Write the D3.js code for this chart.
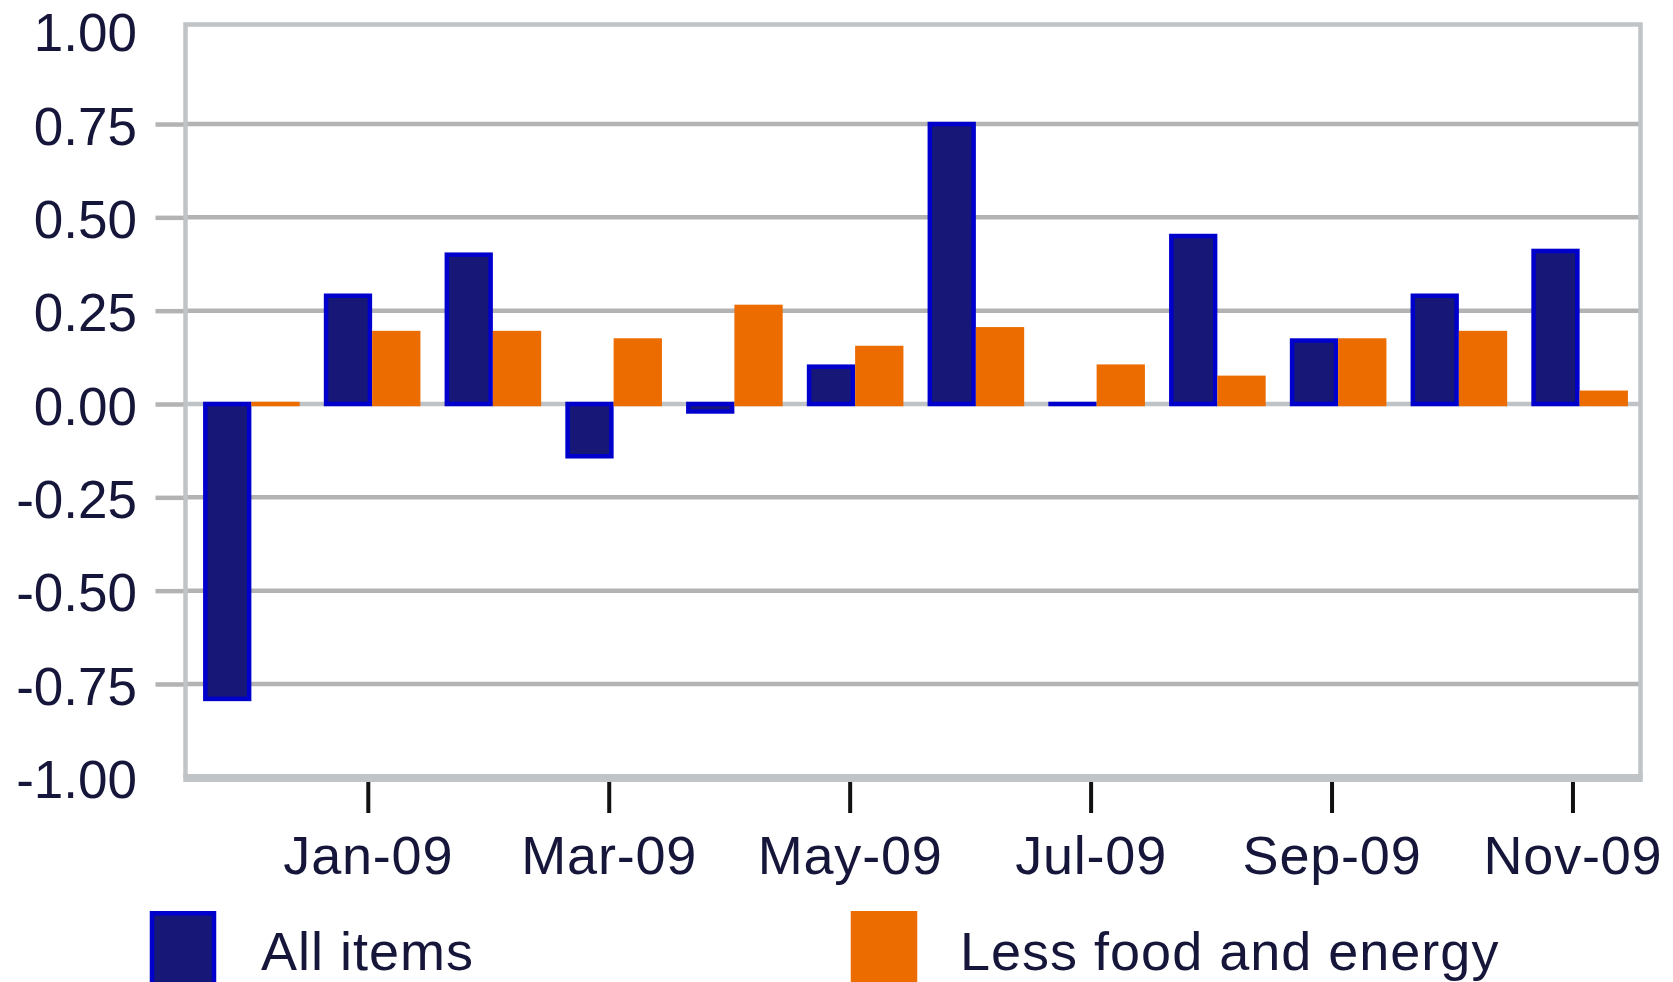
<!DOCTYPE html>
<html>
<head>
<meta charset="utf-8">
<script src="https://cdn.jsdelivr.net/npm/d3@7"></script>
<style>
  html, body { margin: 0; padding: 0; background: #ffffff; overflow: hidden; }
  svg { display: block; }
</style>
</head>
<body>
<svg id="chart" width="1673" height="982"></svg>
<script>
// ---- data ----
const months = ["Dec-08","Jan-09","Feb-09","Mar-09","Apr-09","May-09","Jun-09","Jul-09","Aug-09","Sep-09","Oct-09","Nov-09"];
const allItems = [-0.79, 0.29, 0.40, -0.14, -0.02, 0.10, 0.75, 0.00, 0.45, 0.17, 0.29, 0.41];
const lessFoodEnergy = [0.00, 0.19, 0.19, 0.17, 0.26, 0.15, 0.20, 0.10, 0.07, 0.17, 0.19, 0.03];
const xTickLabels = ["Jan-09","Mar-09","May-09","Jul-09","Sep-09","Nov-09"];
const yTicks = [-1.00, -0.75, -0.50, -0.25, 0.00, 0.25, 0.50, 0.75, 1.00];
const seriesNames = ["All items", "Less food and energy"];

// ---- layout ----
const frame = { left: 185.5, right: 1640.5, top: 24.5, bottom: 778 };
const svg = d3.select("#chart");
const fontFam = "'Liberation Sans', Arial, sans-serif";
const textColor = "#16163a";

const y = d3.scaleLinear().domain([-1, 1]).range([777.3, 30.7]);
const x = d3.scaleBand().domain(months).range([191, 1640]).paddingInner(0.2).paddingOuter(0.1);
const xTickScale = d3.scaleBand().domain(months).range([187.6, 1633.2]).padding(0);

const inner = d => Math.abs(d) < 1;

// gridlines (non-zero, inside the frame)
svg.append("g").selectAll("line")
  .data(yTicks.filter(d => d !== 0 && inner(d)))
  .join("line")
  .attr("x1", frame.left).attr("x2", frame.right)
  .attr("y1", d => y(d)).attr("y2", d => y(d))
  .attr("stroke", "#b3b3b3").attr("stroke-width", 4.5);

// y axis (ticks + labels)
const yAxis = d3.axisLeft(y).tickValues(yTicks).tickSize(30).tickPadding(18.5)
  .tickFormat(d => d.toFixed(2));
const gy = svg.append("g").attr("transform", `translate(${frame.left},0)`).call(yAxis);
gy.select(".domain").remove();
gy.selectAll(".tick line")
  .attr("stroke", "#b3b3b3").attr("stroke-width", 4.5)
  .attr("display", d => inner(d) ? null : "none");
gy.selectAll(".tick text")
  .attr("dy", "0.38em")
  .attr("fill", textColor)
  .style("font-family", fontFam)
  .style("font-size", "53px");

// zero line
svg.append("line")
  .attr("x1", frame.left).attr("x2", frame.right)
  .attr("y1", y(0)).attr("y2", y(0))
  .attr("stroke", "#bfc3c6").attr("stroke-width", 4.5);

// frame
svg.append("path")
  .attr("d", `M${frame.left},${frame.bottom} V${frame.top} H${frame.right} V${frame.bottom}`)
  .attr("fill", "none").attr("stroke", "#c0c4c7").attr("stroke-width", 4.5);
svg.append("line")
  .attr("x1", frame.left - 2.25).attr("x2", frame.right + 2.25)
  .attr("y1", frame.bottom).attr("y2", frame.bottom)
  .attr("stroke", "#c0c4c7").attr("stroke-width", 8);

// bars
const sw = 4.5;
const barW = x.bandwidth() / 2;
const groups = svg.append("g").selectAll("g")
  .data(months).join("g")
  .attr("transform", d => `translate(${x(d)},0)`);

function barRect(sel, values, idx, fill, stroke) {
  sel.append("rect")
    .attr("x", idx * barW + sw / 2)
    .attr("width", barW - sw)
    .attr("y", d => Math.min(y(values[months.indexOf(d)]), y(0)))
    .attr("height", d => Math.max(0.01, Math.abs(y(values[months.indexOf(d)]) - y(0))))
    .attr("fill", fill)
    .attr("stroke", stroke)
    .attr("stroke-width", sw);
}
barRect(groups, allItems, 0, "#171778", "#0000cc");
barRect(groups, lessFoodEnergy, 1, "#ec6c00", "#ec6c00");

// x axis
const xAxis = d3.axisBottom(xTickScale).tickValues(months.filter(m => xTickLabels.includes(m)))
  .tickSize(31).tickPadding(22.7);
const gx = svg.append("g").attr("transform", `translate(0,782)`).call(xAxis);
gx.select(".domain").remove();
gx.selectAll(".tick line").attr("stroke", "#111111").attr("stroke-width", 4);
gx.selectAll(".tick text")
  .attr("fill", textColor)
  .style("font-family", fontFam)
  .style("font-size", "54px")
  .style("letter-spacing", "0.8px");

// legend
const legend = [
  { name: seriesNames[0], fill: "#171778", stroke: "#0000cc", sx: 152, tx: 261 },
  { name: seriesNames[1], fill: "#ec6c00", stroke: "#ec6c00", sx: 853, tx: 960 }
];
const lg = svg.append("g").selectAll("g").data(legend).join("g");
lg.append("rect")
  .attr("x", d => d.sx).attr("y", 913.25)
  .attr("width", 62).attr("height", 80)
  .attr("fill", d => d.fill).attr("stroke", d => d.stroke).attr("stroke-width", sw);
lg.append("text")
  .attr("x", d => d.tx).attr("y", 970)
  .attr("fill", textColor)
  .style("font-family", fontFam)
  .style("font-size", "54px")
  .style("letter-spacing", "1px")
  .text(d => d.name);
</script>
</body>
</html>
